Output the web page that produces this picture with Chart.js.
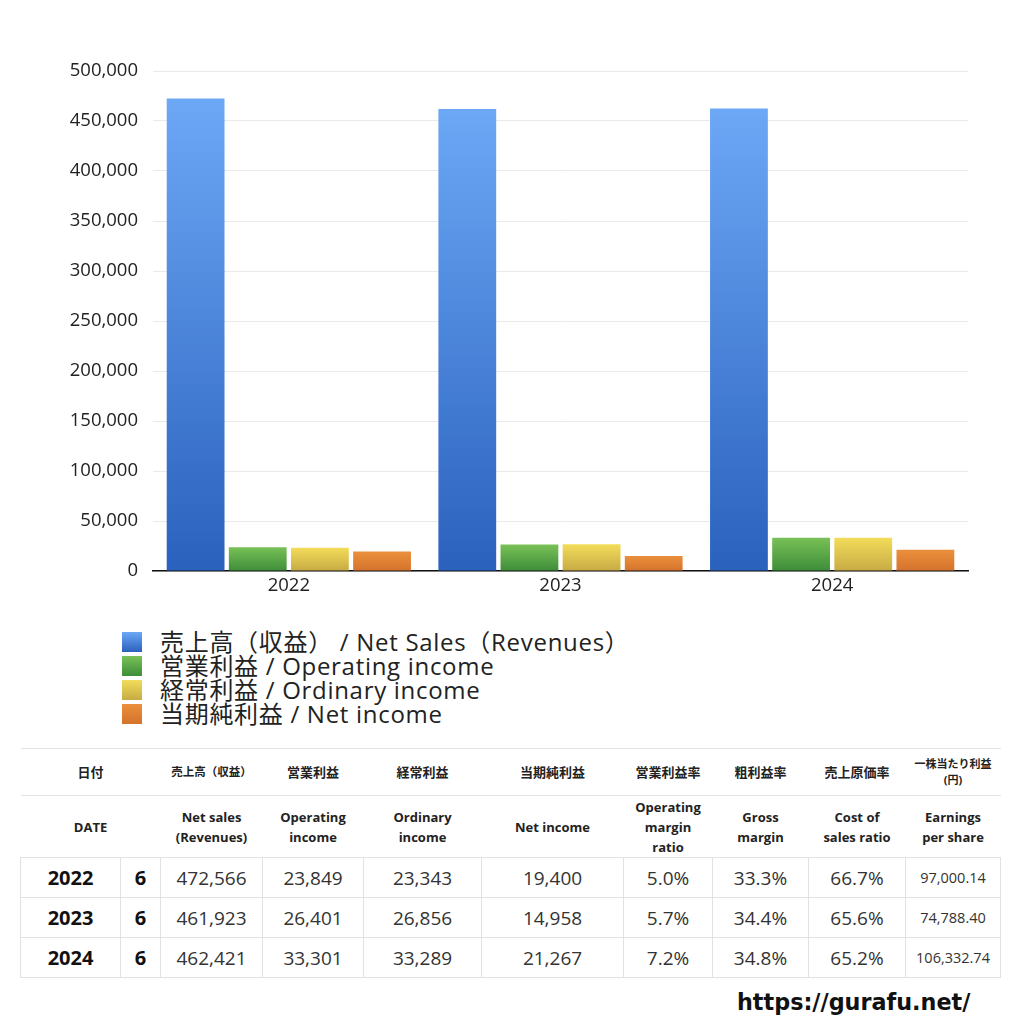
<!DOCTYPE html>
<html>
<head>
<meta charset="utf-8">
<script src="https://cdn.jsdelivr.net/npm/chart.js@4"></script>
<style>
  body { margin: 0; background: #fff; font-family: "Open Sans", "Noto Sans CJK JP", sans-serif; color: #222; }
  #wrap { position: relative; width: 1024px; height: 1024px; }
  #chartBox { position: absolute; left: 0; top: 0; width: 1024px; height: 611px; }
  #legend { position: absolute; left: 122px; top: 630px; font-size: 24px; line-height: 24px; color: #222; letter-spacing: 0.7px; }
  #legend div { display: flex; align-items: center; height: 24px; white-space: nowrap; }
  #legend span.sw { display: inline-block; width: 20px; height: 20px; margin-right: 18px; }
  table { position: absolute; left: 20px; top: 748px; width: 980px; border-collapse: collapse; table-layout: fixed; }
  td { border: 1px solid #e2e2e2; text-align: center; padding: 0; }
  tr.h td { font-weight: bold; font-size: 13px; line-height: 20px; color: #222; border-left: none; border-right: none; }
  tr.h1 td { height: 46px; }
  tr.h2 td { height: 61px; }
  tr.d td { height: 39px; font-size: 19px; color: #333; }
  tr.d td.yr { font-weight: bold; font-size: 20px; color: #111; }
  tr.d td.eps { font-size: 14.5px; }
  #url { position: absolute; left: 737px; top: 989px; font-size: 22.3px; font-weight: bold; color: #111; font-family: "DejaVu Sans", sans-serif; }
</style>
</head>
<body>
<div id="wrap">
  <div id="chartBox"><canvas id="c"></canvas></div>
  <div id="legend"></div>
  <table id="tbl"></table>
  <div id="url">https://gurafu.net/</div>
</div>
<script>
const years = ['2022', '2023', '2024'];
const months = ['6', '6', '6'];
const netSales = [472566, 461923, 462421];
const operatingIncome = [23849, 26401, 33301];
const ordinaryIncome = [23343, 26856, 33289];
const netIncome = [19400, 14958, 21267];
const opMargin = ['5.0%', '5.7%', '7.2%'];
const grossMargin = ['33.3%', '34.4%', '34.8%'];
const costRatio = ['66.7%', '65.6%', '65.2%'];
const eps = ['97,000.14', '74,788.40', '106,332.74'];
const yTicks = [0, 50000, 100000, 150000, 200000, 250000, 300000, 350000, 400000, 450000, 500000];

const seriesNames = [
  '売上高（収益） / Net Sales（Revenues）',
  '営業利益 / Operating income',
  '経常利益 / Ordinary income',
  '当期純利益 / Net income'
];
// top / bottom colours of each bar gradient
const colors = [
  ['#6ca8f6', '#2a61bd'],
  ['#79c157', '#3d8d39'],
  ['#f3dd5a', '#c7aa44'],
  ['#ea903c', '#d5722c']
];

function barGradient(ctx, i) {
  const chart = ctx.chart;
  if (!chart.chartArea || ctx.parsed === undefined) return colors[i][1];
  const y = chart.scales.y;
  const top = y.getPixelForValue(ctx.parsed.y);
  const base = y.getPixelForValue(0);
  const g = chart.ctx.createLinearGradient(0, top, 0, base);
  g.addColorStop(0, colors[i][0]);
  g.addColorStop(1, colors[i][1]);
  return g;
}

const values = [netSales, operatingIncome, ordinaryIncome, netIncome];
const tickFont = { size: 18.5, family: '"Open Sans", "Noto Sans CJK JP"' };

new Chart(document.getElementById('c'), {
  type: 'bar',
  data: {
    labels: years,
    datasets: values.map((v, i) => ({
      label: seriesNames[i],
      data: v,
      backgroundColor: ctx => barGradient(ctx, i),
      borderWidth: 0,
      categoryPercentage: 0.915,
      barPercentage: 0.93
    }))
  },
  options: {
    responsive: true,
    maintainAspectRatio: false,
    animation: false,
    layout: { padding: { top: 71, right: 56, left: 0, bottom: 0 } },
    plugins: { legend: { display: false }, tooltip: { enabled: false } },
    scales: {
      x: {
        grid: { display: false, drawTicks: false },
        border: { display: true, color: '#111', width: 1.5 },
        ticks: { color: '#222', font: tickFont, padding: 4 },
        afterFit: s => { s.height = 40; }
      },
      y: {
        min: 0, max: 500000,
        afterBuildTicks: s => { s.ticks = yTicks.map(v => ({ value: v })); },
        grid: { color: '#e9e9e9', drawTicks: false },
        border: { display: false },
        ticks: {
          color: '#222', padding: 15,
          font: tickFont,
          callback: v => v.toLocaleString('en-US')
        },
        afterFit: s => { s.width = 153; }
      }
    }
  }
});

// legend
const lg = document.getElementById('legend');
seriesNames.forEach((n, i) => {
  const row = document.createElement('div');
  row.innerHTML = '<span class="sw" style="background:linear-gradient(' + colors[i][0] + ',' + colors[i][1] + ')"></span>' + n;
  lg.appendChild(row);
});

// table
const colW = [100, 40, 102, 101, 118, 142, 89, 96, 97, 95];
const tbl = document.getElementById('tbl');
let html = '<colgroup>' + colW.map(w => '<col style="width:' + w + 'px">').join('') + '</colgroup>';
html += '<tr class="h h1"><td colspan="2">日付</td><td style="font-size:11.5px">売上高（収益）</td><td>営業利益</td><td>経常利益</td><td>当期純利益</td><td>営業利益率</td><td>粗利益率</td><td>売上原価率</td><td style="font-size:11px;line-height:16px">一株当たり利益<br>(円)</td></tr>';
html += '<tr class="h h2"><td colspan="2">DATE</td><td>Net sales<br>(Revenues)</td><td>Operating<br>income</td><td>Ordinary<br>income</td><td>Net income</td><td>Operating<br>margin<br>ratio</td><td>Gross<br>margin</td><td>Cost of<br>sales ratio</td><td>Earnings<br>per share</td></tr>';
years.forEach((y, i) => {
  html += '<tr class="d"><td class="yr">' + y + '</td><td class="yr">' + months[i] + '</td><td>' +
    netSales[i].toLocaleString('en-US') + '</td><td>' + operatingIncome[i].toLocaleString('en-US') + '</td><td>' +
    ordinaryIncome[i].toLocaleString('en-US') + '</td><td>' + netIncome[i].toLocaleString('en-US') + '</td><td>' +
    opMargin[i] + '</td><td>' + grossMargin[i] + '</td><td>' + costRatio[i] + '</td><td class="eps">' + eps[i] + '</td></tr>';
});
tbl.innerHTML = html;
</script>
</body>
</html>
